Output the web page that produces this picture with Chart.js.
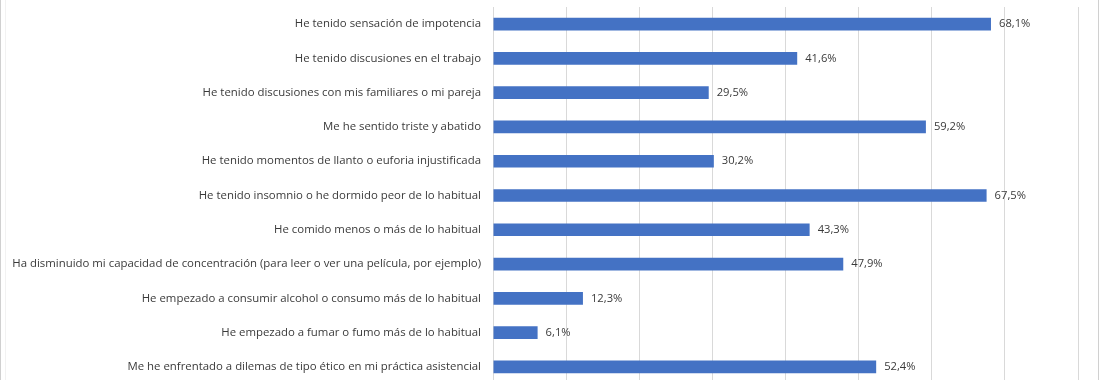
<!DOCTYPE html>
<html>
<head>
<meta charset="utf-8">
<script src="https://cdn.jsdelivr.net/npm/chart.js@4.4.1/dist/chart.umd.min.js"></script>
<style>
html,body{margin:0;padding:0;background:#fff;overflow:hidden;}
#wrap{position:relative;width:1100px;height:400px;}
</style>
</head>
<body>
<div id="wrap"><canvas id="c"></canvas></div>
<script>
const categories = [
  "He tenido sensación de impotencia",
  "He tenido discusiones en el trabajo",
  "He tenido discusiones con mis familiares o mi pareja",
  "Me he sentido triste y abatido",
  "He tenido momentos de llanto o euforia injustificada",
  "He tenido insomnio o he dormido peor de lo habitual",
  "He comido menos o más de lo habitual",
  "Ha disminuido mi capacidad de concentración (para leer o ver una película, por ejemplo)",
  "He empezado a consumir alcohol o consumo más de lo habitual",
  "He empezado a fumar o fumo más de lo habitual",
  "Me he enfrentado a dilemas de tipo ético en mi práctica asistencial"
];
const values = [68.1, 41.6, 29.5, 59.2, 30.2, 67.5, 43.3, 47.9, 12.3, 6.1, 52.4];
const xTicks = [0, 10, 20, 30, 40, 50, 60, 70, 80];

const FONT = "'Open Sans', 'Liberation Sans', Arial, sans-serif";
const TEXT = '#3a3a3a';

const valueLabels = {
  id: 'valueLabels',
  afterDatasetsDraw(chart) {
    const ctx = chart.ctx;
    const meta = chart.getDatasetMeta(0);
    ctx.save();
    ctx.font = '11.2px ' + FONT;
    ctx.fillStyle = TEXT;
    ctx.textAlign = 'left';
    ctx.textBaseline = 'middle';
    meta.data.forEach((bar, i) => {
      const txt = values[i].toFixed(1).replace('.', ',') + '%';
      ctx.fillText(txt, bar.x + 8, bar.y);
    });
    ctx.restore();
  }
};

const frame = {
  id: 'frame',
  beforeDraw(chart) {
    const ctx = chart.ctx;
    ctx.save();
    ctx.strokeStyle = '#d0d0d0';
    ctx.lineWidth = 1;
    ctx.beginPath();
    ctx.moveTo(0.5, 0); ctx.lineTo(0.5, chart.height);
    ctx.moveTo(1098.5, 0); ctx.lineTo(1098.5, chart.height);
    ctx.stroke();
    ctx.strokeStyle = '#f2f2f2';
    ctx.beginPath();
    ctx.moveTo(5.5, 0); ctx.lineTo(5.5, chart.height);
    ctx.stroke();
    ctx.restore();
  }
};

new Chart(document.getElementById('c'), {
  type: 'bar',
  data: {
    labels: categories,
    datasets: [{
      data: values,
      backgroundColor: '#4472C4',
      borderWidth: 0,
      categoryPercentage: 1,
      barPercentage: 0.37
    }]
  },
  options: {
    indexAxis: 'y',
    responsive: true,
    maintainAspectRatio: false,
    animation: false,
    layout: { padding: { top: 7, bottom: 16, left: 0, right: 22 } },
    plugins: { legend: { display: false }, tooltip: { enabled: false } },
    scales: {
      x: {
        min: 0, max: 80,
        afterBuildTicks(scale) { scale.ticks = xTicks.map(v => ({ value: v })); },
        afterFit(scale) { scale.height = 0; scale.paddingLeft = 0; scale.paddingRight = 0; },
        ticks: { display: false },
        grid: { color: '#d9d9d9', drawTicks: false },
        border: { display: false }
      },
      y: {
        afterFit(scale) { scale.width = 493; scale.paddingTop = 0; scale.paddingBottom = 0; },
        ticks: { color: TEXT, font: { family: FONT, size: 11.4 }, padding: 12, autoSkip: false },
        grid: { display: false, drawTicks: false },
        border: { color: '#d9d9d9' }
      }
    }
  },
  plugins: [valueLabels, frame]
});
</script>
</body>
</html>
